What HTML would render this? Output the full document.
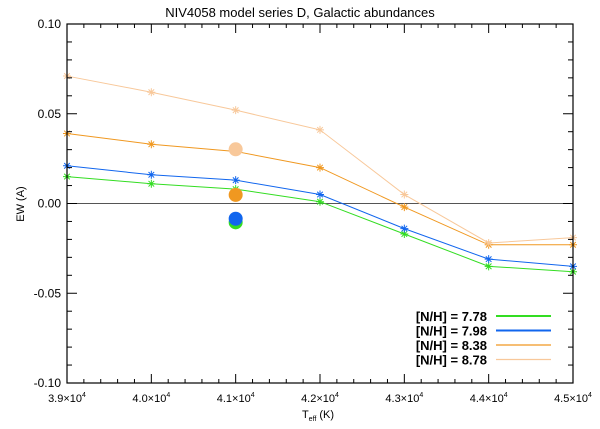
<!DOCTYPE html>
<html><head><meta charset="utf-8"><style>
body{margin:0;background:#fff}
svg text{font-family:"Liberation Sans",sans-serif;fill:#000}
</style></head><body>
<svg id="c" width="600" height="424"></svg>
<script>
const temps=[39000,40000,41000,42000,43000,44000,45000];
const seriesLabels=["[N/H] = 7.78","[N/H] = 7.98","[N/H] = 8.38","[N/H] = 8.78"];
const ew778=[0.015,0.011,0.008,0.001,-0.017,-0.035,-0.038];
const ew798=[0.021,0.016,0.013,0.005,-0.014,-0.031,-0.035];
const ew838=[0.039,0.033,0.029,0.020,-0.002,-0.023,-0.023];
const ew878=[0.071,0.062,0.052,0.041,0.005,-0.022,-0.019];
const obsT=41000;
const obsEW=[-0.0105,-0.0085,0.0048,0.0302];
const xTicks=[39000,40000,41000,42000,43000,44000,45000];
const xTickLabels=["3.9","4.0","4.1","4.2","4.3","4.4","4.5"];
const yTicks=[-0.10,-0.05,0.00,0.05,0.10];
const yTickLabels=["-0.10","-0.05","0.00","0.05","0.10"];

const colors=["#33dd22","#1166ee","#f09820","#f8c89a"];
const series=[ew778,ew798,ew838,ew878];
const L=67,R=573,T=24,B=383;
const xs=v=>L+(v-39000)/6000*(R-L);
const ys=v=>T+(0.10-v)/0.20*(B-T);
const svg=document.getElementById('c');
const NS='http://www.w3.org/2000/svg';
function mk(tag,at,parent){const e=document.createElementNS(NS,tag);for(const k in at)e.setAttribute(k,at[k]);(parent||svg).appendChild(e);return e;}

let t=mk('text',{x:300,y:17,'text-anchor':'middle','font-size':13});
t.textContent='NIV4058 model series D, Galactic abundances';



let z=mk('line',{x1:L,x2:R,y1:ys(0),y2:ys(0),stroke:'#555','stroke-width':1});



series.forEach((s,i)=>{
  const g=mk('g',{});
  
  
  mk('polyline',{points:s.map((v,j)=>xs(temps[j])+','+ys(v)).join(' '),fill:'none',stroke:colors[i],'stroke-width':1},g);
  s.forEach((v,j)=>{
    const x=xs(temps[j]),y=ys(v),r=4;
    const p=mk('path',{d:`M${x-r},${y}H${x+r}M${x},${y-r}V${y+r}M${x-r*0.7},${y-r*0.7}L${x+r*0.7},${y+r*0.7}M${x-r*0.7},${y+r*0.7}L${x+r*0.7},${y-r*0.7}`,stroke:colors[i],'stroke-width':1},g);
    
    
  });
});
[3,2,0,1].forEach(i=>{
  const c=mk('circle',{cx:xs(obsT),cy:ys(obsEW[i]),r:7,fill:colors[i]});
  
  
});

let f=mk('rect',{x:L,y:T,width:R-L,height:B-T,fill:'none',stroke:'#000','stroke-width':1.2});



for(let v=39000;v<=45000;v+=200){
  const x=xs(v),major=(v%1000===0);const l=major?9:4;
  mk('line',{x1:x,x2:x,y1:B,y2:B-l,stroke:'#000','stroke-width':1});
  mk('line',{x1:x,x2:x,y1:T,y2:T+l,stroke:'#000','stroke-width':1});
}
xTicks.forEach((v,i)=>{
  const tx=mk('text',{x:xs(v),y:B+19,'text-anchor':'middle','font-size':11});
  
  
  tx.innerHTML=xTickLabels[i]+'×10<tspan dy="-5" font-size="7">4</tspan>';
});
for(let k=-10;k<=10;k++){
  const v=k*0.01,y=ys(v),major=(k%5===0);const l=major?10:5;
  mk('line',{x1:L,x2:L+l,y1:y,y2:y,stroke:'#000','stroke-width':1});
  mk('line',{x1:R,x2:R-l,y1:y,y2:y,stroke:'#000','stroke-width':1});
}
yTicks.forEach((v,i)=>{
  const ty=mk('text',{x:L-6,y:ys(v)+4,'text-anchor':'end','font-size':12});
  ty.textContent=yTickLabels[i];
  
  
});
let xt=mk('text',{x:318,y:418,'text-anchor':'middle','font-size':11});
xt.innerHTML='T<tspan dy="3" font-size="7">eff</tspan><tspan dy="-3"> (K)</tspan>';


let yt=mk('text',{x:0,y:0,'text-anchor':'middle','font-size':11,transform:'translate(24,204) rotate(-90)'});
yt.textContent='EW (A)';



seriesLabels.forEach((s,i)=>{
  const y=316+i*14.5;
  const g=mk('g',{});
  
  
  const tx=mk('text',{x:487,y:y+5,'text-anchor':'end','font-size':13,'font-weight':'bold'},g);
  tx.textContent=s;
  mk('line',{x1:496,x2:551,y1:y,y2:y,stroke:colors[i],'stroke-width':i<2?2:1.3},g);
});
</script>
</body></html>
